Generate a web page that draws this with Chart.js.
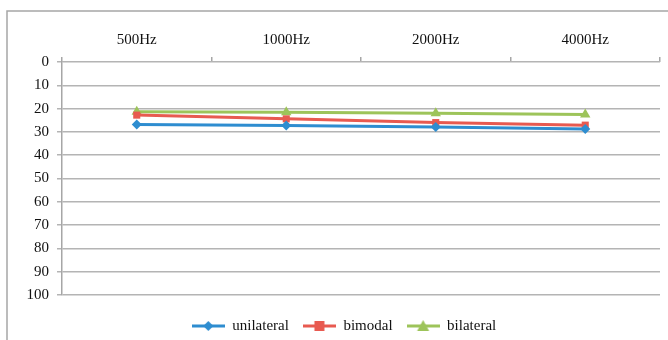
<!DOCTYPE html>
<html>
<head>
<meta charset="utf-8">
<script src="https://cdn.jsdelivr.net/npm/chart.js@4/dist/chart.umd.min.js"></script>
<style>
  html, body { margin: 0; padding: 0; background: #fff; }
  #wrap { width: 668px; height: 340px; }
</style>
</head>
<body>
<div id="wrap"><canvas id="hearing_chart" width="668" height="340"></canvas></div>
<script>
const freqs = ['500Hz', '1000Hz', '2000Hz', '4000Hz'];
const unilateral = [26.8, 27.3, 27.9, 28.8];
const bimodal = [22.8, 24.4, 26.0, 27.1];
const bilateral = [21.3, 21.6, 22.0, 22.5];
const seriesNames = ['unilateral', 'bimodal', 'bilateral'];

const BLUE = '#2E8DD0', RED = '#E85A50', GREEN = '#9DC45A';
const SERIF = '"Liberation Serif", "Times New Roman", serif';

// legend icon: short line with the marker in the middle
function legendIcon(color, shape) {
  const c = document.createElement('canvas');
  c.width = 33; c.height = 14;
  const g = c.getContext('2d');
  g.strokeStyle = color; g.fillStyle = color; g.lineWidth = 3;
  g.beginPath(); g.moveTo(0, 7); g.lineTo(33, 7); g.stroke();
  g.beginPath();
  if (shape === 'diamond') {
    g.moveTo(16.5, 2); g.lineTo(21.5, 7); g.lineTo(16.5, 12); g.lineTo(11.5, 7);
  } else if (shape === 'square') {
    g.rect(11.5, 2, 10, 10);
  } else {
    g.moveTo(16.5, 1); g.lineTo(22.5, 12); g.lineTo(10.5, 12);
  }
  g.closePath(); g.fill();
  return c;
}
const icons = [legendIcon(BLUE, 'diamond'), legendIcon(RED, 'square'), legendIcon(GREEN, 'tri')];

const framePlugin = {
  id: 'frame',
  afterLayout(chart) {
    // push the legend row down and a bit right, like the original
    const lg = chart.legend;
    const dy = 304.5 - lg.top;
    lg.top += dy; lg.bottom += dy;
    lg.left += 14; lg.right += 14;
  },
  beforeDraw(chart) {
    const g = chart.ctx;
    g.save();
    g.strokeStyle = '#a6a6a6';
    g.lineWidth = 1.5;
    g.beginPath();
    g.moveTo(7, 340); g.lineTo(7, 11); g.lineTo(668, 11);
    g.stroke();
    g.restore();
  }
};

const ctx = document.getElementById('hearing_chart').getContext('2d');
const hearing_chart = new Chart(ctx, {
  type: 'line',
  data: {
    labels: freqs,
    datasets: [
      { label: seriesNames[0], data: unilateral, borderColor: BLUE, backgroundColor: BLUE,
        pointStyle: 'rectRot', pointRadius: 5, borderWidth: 3, pointBorderWidth: 0 },
      { label: seriesNames[1], data: bimodal, borderColor: RED, backgroundColor: RED,
        pointStyle: 'rect', pointRadius: 5, borderWidth: 3, pointBorderWidth: 0 },
      { label: seriesNames[2], data: bilateral, borderColor: GREEN, backgroundColor: GREEN,
        pointStyle: 'triangle', pointRadius: 6, borderWidth: 3, pointBorderWidth: 0 }
    ]
  },
  options: {
    responsive: false,
    animation: false,
    layout: { padding: { left: 0, right: 8, top: 2, bottom: 6 } },
    scales: {
      x: {
        position: 'top',
        offset: true,
        grid: { offset: true, drawOnChartArea: false, drawTicks: true, tickLength: 5, color: '#a6a6a6', lineWidth: 1.5 },
        border: { display: false },
        ticks: { color: '#111', font: { family: SERIF, size: 15 }, padding: 8 },
        afterFit(scale) { scale.height = 60; }
      },
      y: {
        reverse: true,
        min: 0,
        max: 100,
        ticks: { stepSize: 10, color: '#111', font: { family: SERIF, size: 15 }, padding: 8 },
        grid: { color: '#b4b4b4', lineWidth: 1.5, tickLength: 5 },
        border: { display: true, color: '#a6a6a6', width: 1.5 },
        afterFit(scale) { scale.width = 62; }
      }
    },
    plugins: {
      legend: {
        position: 'bottom',
        labels: {
          usePointStyle: true,
          pointStyleWidth: 33,
          color: '#111',
          font: { family: SERIF, size: 15 },
          padding: 14,
          generateLabels(chart) {
            return chart.data.datasets.map((ds, i) => ({
              text: ds.label,
              pointStyle: icons[i],
              fillStyle: ds.borderColor,
              strokeStyle: ds.borderColor,
              lineWidth: 0,
              hidden: false,
              datasetIndex: i,
              fontColor: '#111'
            }));
          }
        }
      },
      tooltip: { enabled: false }
    }
  },
  plugins: [framePlugin]
});
</script>
</body>
</html>
